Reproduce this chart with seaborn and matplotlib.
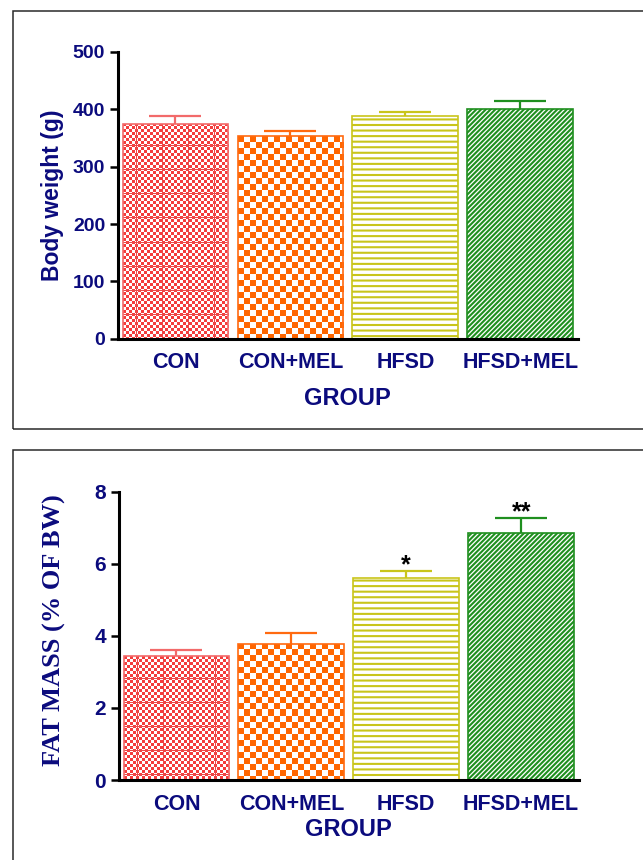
import numpy as np
import pandas as pd
import matplotlib
matplotlib.use("Agg")
import matplotlib.pyplot as plt
import matplotlib.colors as mcolors
from matplotlib.patches import Rectangle
import seaborn as sns

# ---- data -------------------------------------------------------------
groups = ["CON", "CON+MEL", "HFSD", "HFSD+MEL"]
body_weight = [375, 354, 389, 400]
body_weight_sem = [13, 8, 7, 14]
fat_mass = [3.44, 3.78, 5.61, 6.85]
fat_mass_sem = [0.17, 0.31, 0.19, 0.43]
fat_marks = ["", "", "*", "**"]
bw_ticks = [0, 100, 200, 300, 400, 500]
fat_ticks = [0, 2, 4, 6, 8]

# ---- style ------------------------------------------------------------
NAVY = "#0b0b7d"
colors = ["#f43c3c", "#ff6600", "#c9c51a", "#1f8f1f"]
edge_colors = ["#f26a6a", "#ff6a10", "#c9c51a", "#1f8f1f"]

sns.set_style("white")
plt.rcParams["font.family"] = ["Liberation Sans", "DejaVu Sans"]
plt.rcParams["font.weight"] = "bold"
plt.rcParams["axes.labelweight"] = "bold"
plt.rcParams["hatch.linewidth"] = 1.5

W_PX, H_PX = 643, 860
fig = plt.figure(figsize=(W_PX / 100, H_PX / 100), dpi=100)

# outer frames around each panel
fig.patches.append(Rectangle((13 / W_PX, 1 - 429 / H_PX), 1.0, 418 / H_PX,
                             transform=fig.transFigure, fill=False,
                             lw=1.1, ec="#2a2a2a"))
fig.patches.append(Rectangle((13 / W_PX, -0.05), 1.0, 1 - 450 / H_PX + 0.05,
                             transform=fig.transFigure, fill=False,
                             lw=1.1, ec="#2a2a2a"))


def checker(w, h, cell, color, grid=None, grid_color=None):
    rgb = np.array(mcolors.to_rgb(color))
    yy, xx = np.mgrid[0:h, 0:w]
    on = ((yy // cell) + (xx // cell)) % 2 == 0
    img = np.ones((h, w, 3))
    img[on] = rgb
    if grid is not None:
        gx, gy = grid
        line = (xx % gx == gx // 2) | (yy % gy == gy - 2)
        img[line] = np.array(mcolors.to_rgb(grid_color))
    return img


def panel(ax, values, sems, ticks, ylabel, ylabel_kw, label_xy, group_y,
          marks=None, ytick_size=14):
    df = pd.DataFrame({"group": groups, "value": values})
    sns.barplot(data=df, x="group", y="value", hue="group", palette=colors,
                saturation=1, errorbar=None, width=0.92, legend=False, ax=ax)
    ax.set_xlim(-0.5, 3.5)
    ax.set_ylim(ticks[0], ticks[-1])
    ax.set_yticks(ticks)

    bars = list(ax.patches)
    for i, p in enumerate(bars):
        p.set_edgecolor(edge_colors[i])
        p.set_linewidth(1.2)
        if i == 2:
            p.set_facecolor("white")
            p.set_hatch("---")
        elif i == 3:
            p.set_facecolor("white")
            p.set_hatch("///////")
        else:
            p.set_facecolor("none")
            x0, w, h = p.get_x(), p.get_width(), p.get_height()
            (px0, py0), (px1, py1) = ax.transData.transform([(x0, 0), (x0 + w, h)])
            wp, hp = int(round(px1 - px0)), int(round(py1 - py0))
            if i == 0:
                img = checker(wp, hp, 3, colors[0], grid=(26, 24), grid_color="#ec4848")
            else:
                img = checker(wp, hp, 6, colors[1])
            im = ax.imshow(img, extent=(x0, x0 + w, 0, h), origin="upper",
                           aspect="auto", interpolation="nearest", zorder=0.9)
            im.set_clip_path(p)

    for i, (v, s) in enumerate(zip(values, sems)):
        eb = ax.errorbar(i, v, yerr=[[0], [s]], fmt="none", ecolor=edge_colors[i],
                         elinewidth=1.6, capsize=19, capthick=1.6, zorder=3)
        eb[1][0].set_visible(False)
        if marks and marks[i]:
            ax.annotate(marks[i], (i, v + s), xytext=(0, -1), textcoords="offset points",
                        ha="center", va="baseline", fontsize=18, color="black")

    ax.set_xlim(-0.5, 3.5)
    ax.set_ylim(ticks[0], ticks[-1])
    for side in ("top", "right"):
        ax.spines[side].set_visible(False)
    for side in ("left", "bottom"):
        ax.spines[side].set_linewidth(2.2)
        ax.spines[side].set_color("black")
    ax.tick_params(axis="y", length=5.8, width=1.8, pad=3.4, labelsize=ytick_size,
                   labelcolor=NAVY, color="black", left=True)
    ax.tick_params(axis="x", length=0, pad=9.8, labelsize=15.5, labelcolor=NAVY)
    ax.set_ylabel(ylabel, color=NAVY, **ylabel_kw)
    ax.yaxis.set_label_coords(*label_xy)
    ax.set_xlabel("GROUP", fontsize=17, fontweight="bold", color=NAVY)
    ax.xaxis.set_label_coords(0.5, group_y)


ax1 = fig.add_axes([118 / W_PX, 1 - 338.7 / H_PX, 459.7 / W_PX, 286.7 / H_PX])
panel(ax1, body_weight, body_weight_sem, bw_ticks, "Body weight (g)",
      dict(fontsize=16.5, fontweight="bold"), (-0.118, 0.5), -0.167)

ax2 = fig.add_axes([119 / W_PX, 1 - 780 / H_PX, 459.6 / W_PX, 288.3 / H_PX])
panel(ax2, fat_mass, fat_mass_sem, fat_ticks, "FAT MASS (% OF BW)",
      dict(fontsize=19, fontweight="bold", family=["Liberation Serif", "DejaVu Serif"]),
      (-0.115, 0.52), -0.132, marks=fat_marks, ytick_size=15)

fig.savefig("out.png", dpi=100)
